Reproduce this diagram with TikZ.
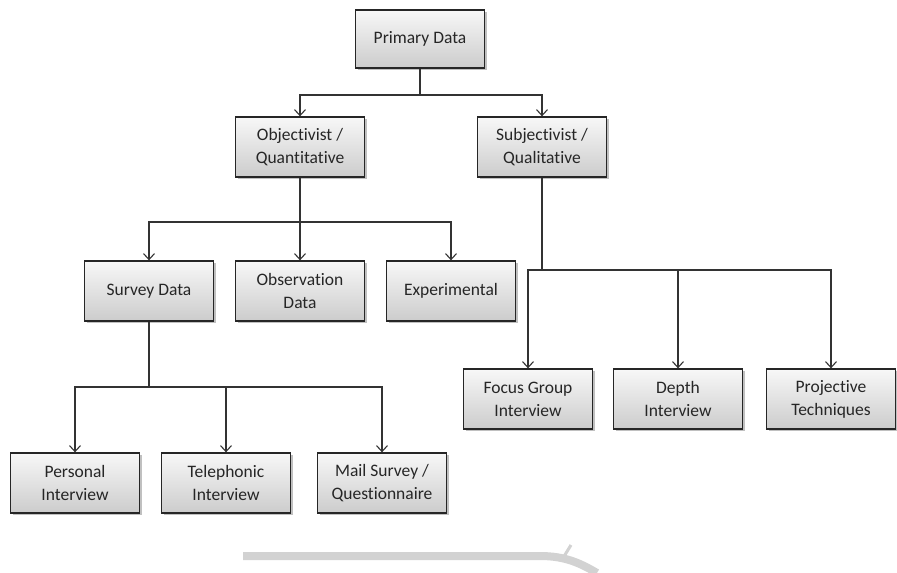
\documentclass[tikz,border=0pt]{standalone}
\usepackage{fontspec}
\setmainfont{Carlito}[Ligatures=NoCommon]
\usetikzlibrary{arrows.meta,shadows}
\begin{document}
\begin{tikzpicture}[x=1pt,y=-1pt,
  box/.style={draw=black!85, line width=1.3pt, minimum width=129pt, minimum height=60pt,
    top color=gray!6, bottom color=gray!40, align=center, inner sep=2pt,
    font=\fontsize{17.5}{23}\selectfont, text=black!85,
    drop shadow={shadow xshift=2pt, shadow yshift=-2pt, opacity=0.35, fill=black!70}},
  link/.style={draw=black!80, line width=1.3pt},
  arr/.style={link, -{Straight Barb[length=6pt,width=11pt,line width=1.1pt]}}]
\useasboundingbox (0,0) rectangle (897,573);
\fill[white] (0,0) rectangle (897,573);

% boxes
\node[box, minimum height=58pt] (pd) at (420,39) {Primary Data};
\node[box] (obj) at (300,147) {Objectivist /\\Quantitative};
\node[box] (subj) at (542,147) {Subjectivist /\\Qualitative};
\node[box] (sd) at (149,291) {Survey Data};
\node[box] (od) at (300,291) {Observation\\Data};
\node[box] (ex) at (451,291) {Experimental};
\node[box] (fg) at (528,399) {Focus Group\\Interview};
\node[box] (di) at (678,399) {Depth\\Interview};
\node[box] (pt) at (831,399) {Projective\\Techniques};
\node[box] (pi) at (75,483) {Personal\\Interview};
\node[box] (ti) at (226,483) {Telephonic\\Interview};
\node[box] (ms) at (382,483) {Mail Survey /\\Questionnaire};

% junctions
\coordinate (j1) at (420,95);
\coordinate (j2) at (300,222);
\coordinate (j3) at (542,270);
\coordinate (j4) at (149,387);

% connectors
\draw[link] (pd.south) -- (j1);
\draw[arr] (j1) -| (obj.north);
\draw[arr] (j1) -| (subj.north);

\draw[link] (obj.south) -- (j2);
\draw[arr] (j2) -| (sd.north);
\draw[arr] (j2) -- (od.north);
\draw[arr] (j2) -| (ex.north);

\draw[link] (subj.south) -- (j3);
\draw[arr] (j3) -| (fg.north);
\draw[arr] (j3) -| (di.north);
\draw[arr] (j3) -| (pt.north);

\draw[link] (sd.south) -- (j4);
\draw[arr] (j4) -| (pi.north);
\draw[arr] (j4) -| (ti.north);
\draw[arr] (j4) -| (ms.north);

% faint grey band along the bottom
\draw[gray!35, line width=8pt] (243,556) -- (540,556) .. controls (565,556) and (580,563) .. (597,573);
\draw[gray!35, line width=3pt] (563,558) -- (571,545);
\end{tikzpicture}
\end{document}
